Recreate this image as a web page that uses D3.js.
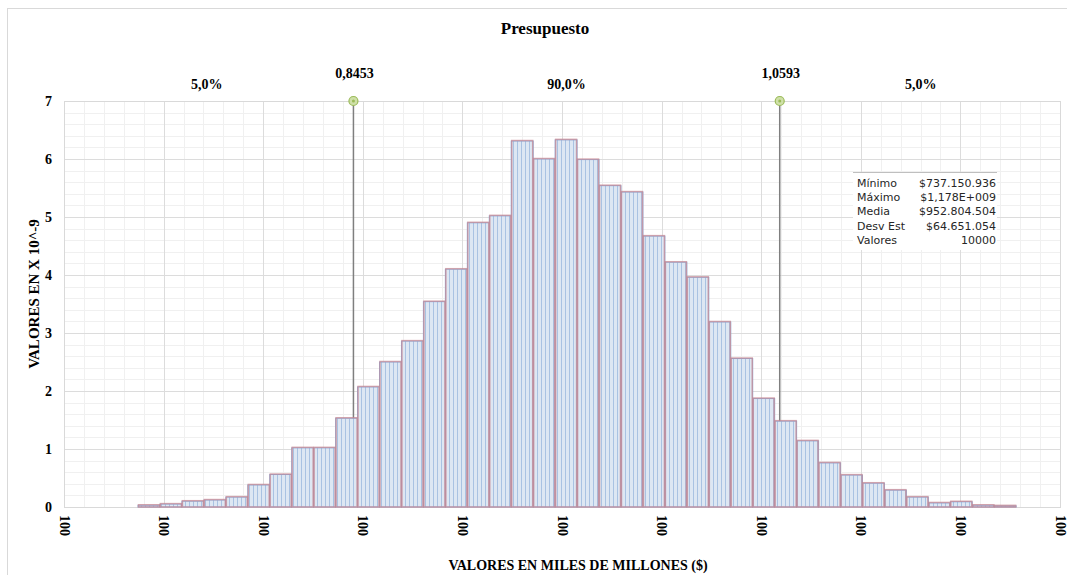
<!DOCTYPE html>
<html>
<head>
<meta charset="utf-8">
<script src="https://cdn.jsdelivr.net/npm/d3@7"></script>
<style>
  body { margin: 0; background: #fff; }
  svg { display: block; }
</style>
</head>
<body>
<svg width="1067" height="575"></svg>
<script>
// histogram data (density, x 10^-9), 40 bins between min and max
var binStart = 0.73715, binEnd = 1.178;
var densities = [0.03, 0.05, 0.10, 0.12, 0.17, 0.38, 0.56, 1.02, 1.02, 1.53,
                 2.07, 2.50, 2.86, 3.54, 4.10, 4.90, 5.02, 6.31, 6.00, 6.33,
                 5.99, 5.54, 5.43, 4.67, 4.22, 3.96, 3.19, 2.56, 1.87, 1.48,
                 1.14, 0.76, 0.55, 0.41, 0.29, 0.17, 0.07, 0.09, 0.03, 0.02];
var xTicks = [0.70, 0.75, 0.80, 0.85, 0.90, 0.95, 1.00, 1.05, 1.10, 1.15, 1.20];
var xTickLabel = "100";
var yTicks = [0, 1, 2, 3, 4, 5, 6, 7];
var percentiles = [0.8453, 1.0593];
var percentileLabels = ["0,8453", "1,0593"];
var bandLabels = ["5,0%", "90,0%", "5,0%"];
var statNames = ["Mínimo", "Máximo", "Media", "Desv Est", "Valores"];
var statValues = ["$737.150.936", "$1,178E+009", "$952.804.504", "$64.651.054", "10000"];

var svg = d3.select("svg"),
    margin = {top: 101, right: 7, bottom: 68, left: 64},
    width = 1060 - margin.left,
    height = 507 - margin.top,
    g = svg.append("g").attr("transform", "translate(" + margin.left + "," + margin.top + ")");

var serif = "'Liberation Serif', 'Times New Roman', serif";

// outer frame
svg.append("rect")
    .attr("x", 7.5).attr("y", 8.5).attr("width", 1070).attr("height", 580)
    .attr("fill", "none").attr("stroke", "#d9d9d9");

var x = d3.scaleLinear().domain([0.70, 1.20]).range([0, width]);
var y = d3.scaleLinear().domain([0, 7]).range([height, 0]);

// stripe pattern for the bars
var defs = svg.append("defs");
var pat = defs.append("pattern")
    .attr("id", "stripes").attr("patternUnits", "userSpaceOnUse")
    .attr("width", 4).attr("height", 4);
pat.append("rect").attr("width", 4).attr("height", 4).attr("fill", "#dde7f3");
pat.append("rect").attr("x", 1).attr("width", 1).attr("height", 4).attr("fill", "#a9c2e2");

// minor grid
var minorX = d3.range(0.70, 1.2001, 0.01);
g.append("g").selectAll("line").data(minorX).enter().append("line")
    .attr("x1", function(d) { return Math.round(x(d)) + 0.5; })
    .attr("x2", function(d) { return Math.round(x(d)) + 0.5; })
    .attr("y1", 0).attr("y2", height)
    .attr("stroke", "#f0f0f0");
var minorY = d3.range(0, 7.001, 0.2);
g.append("g").selectAll("line").data(minorY).enter().append("line")
    .attr("y1", function(d) { return Math.round(y(d)) + 0.5; })
    .attr("y2", function(d) { return Math.round(y(d)) + 0.5; })
    .attr("x1", 0).attr("x2", width)
    .attr("stroke", "#f0f0f0");

// major grid
g.append("g").selectAll("line").data(xTicks).enter().append("line")
    .attr("x1", function(d) { return Math.round(x(d)) + 0.5; })
    .attr("x2", function(d) { return Math.round(x(d)) + 0.5; })
    .attr("y1", 0).attr("y2", height)
    .attr("stroke", "#dcdcdc");
g.append("g").selectAll("line").data(yTicks).enter().append("line")
    .attr("y1", function(d) { return Math.round(y(d)) + 0.5; })
    .attr("y2", function(d) { return Math.round(y(d)) + 0.5; })
    .attr("x1", 0).attr("x2", width)
    .attr("stroke", "#dcdcdc");

g.append("rect")
    .attr("x", 0.5).attr("y", 0.5).attr("width", width).attr("height", height)
    .attr("fill", "none").attr("stroke", "#d9d9d9");

// percentile lines (behind the bars)
percentiles.forEach(function(p) {
    g.append("line")
        .attr("x1", x(p)).attr("x2", x(p))
        .attr("y1", 0).attr("y2", height)
        .attr("stroke", "#7f7f7f").attr("stroke-width", 1.5);
});

// bars
var binW = (binEnd - binStart) / densities.length;
var bars = g.append("g");
bars.selectAll("rect.fill").data(densities).enter().append("rect")
    .attr("class", "fill")
    .attr("x", function(d, i) { return x(binStart + i * binW); })
    .attr("y", function(d) { return y(d); })
    .attr("width", function(d, i) { return x(binStart + (i + 1) * binW) - x(binStart + i * binW); })
    .attr("height", function(d) { return height - y(d); })
    .attr("fill", "url(#stripes)")
    .attr("stroke", "#8eaedb")
    .attr("stroke-width", 1);
bars.selectAll("rect.edge").data(densities).enter().append("rect")
    .attr("class", "edge")
    .attr("x", function(d, i) { return x(binStart + i * binW) + 0.5; })
    .attr("y", function(d) { return y(d) - 0.5; })
    .attr("width", function(d, i) { return x(binStart + (i + 1) * binW) - x(binStart + i * binW) - 1; })
    .attr("height", function(d) { return height - y(d) + 0.5; })
    .attr("fill", "none")
    .attr("stroke", "#c7848f")
    .attr("stroke-opacity", 0.7)
    .attr("stroke-width", 1.5);

// percentile markers
percentiles.forEach(function(p) {
    g.append("circle")
        .attr("cx", x(p)).attr("cy", 0).attr("r", 4.5)
        .attr("fill", "#cfe0a8").attr("stroke", "#9bbb59").attr("stroke-width", 1.2);
    g.append("circle")
        .attr("cx", x(p)).attr("cy", 0).attr("r", 1.5)
        .attr("fill", "#9bbb59");
});

// percentile labels
percentiles.forEach(function(p, i) {
    svg.append("text")
        .attr("x", margin.left + x(p) + 1).attr("y", 78)
        .attr("text-anchor", "middle")
        .attr("font-family", serif).attr("font-weight", "bold").attr("font-size", 14)
        .text(percentileLabels[i]);
});
var bandCenters = [x(0.70) + (x(percentiles[0]) - x(0.70)) / 2 - 2,
                   (x(percentiles[0]) + x(percentiles[1])) / 2,
                   (x(percentiles[1]) + x(1.20)) / 2 + 1];
bandLabels.forEach(function(t, i) {
    svg.append("text")
        .attr("x", margin.left + bandCenters[i]).attr("y", 89)
        .attr("text-anchor", "middle")
        .attr("font-family", serif).attr("font-weight", "bold").attr("font-size", 14)
        .text(t);
});

// title
svg.append("text")
    .attr("x", 545).attr("y", 34)
    .attr("text-anchor", "middle")
    .attr("font-family", serif).attr("font-weight", "bold").attr("font-size", 17)
    .text("Presupuesto");

// y axis
var yAxis = g.append("g")
    .call(d3.axisLeft(y).tickValues(yTicks).tickSize(0).tickPadding(12).tickFormat(d3.format("d")));
yAxis.select(".domain").remove();
yAxis.selectAll("text")
    .attr("font-family", serif).attr("font-weight", "bold").attr("font-size", 14)
    .attr("fill", "#000");

// x axis
var xAxis = g.append("g")
    .attr("transform", "translate(0," + height + ")")
    .call(d3.axisBottom(x).tickValues(xTicks).tickSize(0).tickFormat(function() { return xTickLabel; }));
xAxis.select(".domain").remove();
xAxis.selectAll("text")
    .attr("font-family", serif).attr("font-weight", "bold").attr("font-size", 14)
    .attr("fill", "#000")
    .attr("transform", "rotate(90)")
    .attr("x", 8).attr("y", 0).attr("dy", "0.35em")
    .attr("text-anchor", "start");

// axis titles
svg.append("text")
    .attr("x", 578).attr("y", 570)
    .attr("text-anchor", "middle")
    .attr("font-family", serif).attr("font-weight", "bold").attr("font-size", 14)
    .text("VALORES EN MILES DE MILLONES ($)");
svg.append("text")
    .attr("transform", "translate(39,294) rotate(-90)")
    .attr("text-anchor", "middle")
    .attr("font-family", serif).attr("font-weight", "bold").attr("font-size", 15)
    .text("VALORES EN X 10^-9");

// stats box
var box = svg.append("g").attr("transform", "translate(853,172)");
box.append("rect")
    .attr("x", 0).attr("y", 0).attr("width", 144).attr("height", 78)
    .attr("fill", "#fff");
box.append("line")
    .attr("x1", 0).attr("x2", 144).attr("y1", 0.5).attr("y2", 0.5)
    .attr("stroke", "#bfbfbf");
statNames.forEach(function(n, i) {
    box.append("text")
        .attr("x", 4).attr("y", 15 + i * 14.2)
        .attr("font-family", "'DejaVu Sans', Verdana, sans-serif").attr("font-size", 11)
        .attr("fill", "#262626")
        .text(n);
    box.append("text")
        .attr("x", 143).attr("y", 15 + i * 14.2)
        .attr("text-anchor", "end")
        .attr("font-family", "'DejaVu Sans', Verdana, sans-serif").attr("font-size", 11)
        .attr("fill", "#262626")
        .text(statValues[i]);
});
</script>
</body>
</html>
